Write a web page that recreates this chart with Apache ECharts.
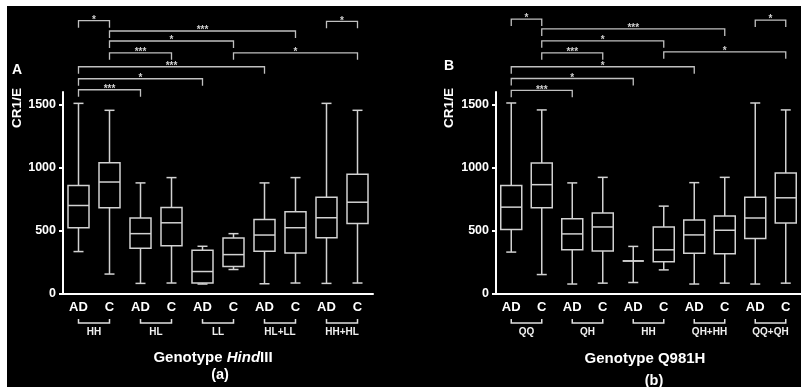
<!DOCTYPE html>
<html>
<head>
<meta charset="utf-8">
<script src="https://cdn.jsdelivr.net/npm/echarts@6/dist/echarts.min.js"></script>
<style>
  html, body { margin: 0; padding: 0; background: #000; }
  #chart { width: 801px; height: 387px; }
</style>
</head>
<body>
<div id="chart"></div>
<script>
// Category labels along each x axis (patients AD / controls C per genotype)
const xLabels = ['AD', 'C', 'AD', 'C', 'AD', 'C', 'AD', 'C', 'AD', 'C'];
const groupsA = ['HH', 'HL', 'LL', 'HL+LL', 'HH+HL'];
const groupsB = ['QQ', 'QH', 'HH', 'QH+HH', 'QQ+QH'];
const yTicks = [0, 500, 1000, 1500];

// Box statistics per category: [min, Q1, median, Q3, max]
const boxesA = [
  [336, 525, 701, 859, 1510],
  [158, 683, 887, 1040, 1455],
  [84, 362, 478, 601, 880],
  [87, 383, 564, 686, 922],
  [79, 87, 178, 347, 378],
  [194, 218, 312, 444, 478],
  [81, 339, 467, 591, 880],
  [87, 325, 525, 651, 922],
  [84, 446, 604, 767, 1510],
  [87, 559, 727, 948, 1455]
];
const boxesB = [
  [332, 511, 688, 859, 1513],
  [154, 683, 866, 1037, 1458],
  [79, 350, 476, 597, 880],
  [86, 340, 531, 641, 924],
  [91, 262, 262, 262, 377],
  [191, 256, 350, 531, 696],
  [79, 322, 468, 586, 882],
  [86, 319, 505, 617, 924],
  [79, 440, 602, 767, 1513],
  [86, 562, 762, 958, 1458]
];

// Significance comparisons: [from category, to category, bracket level]
const sigA = [
  [0, 1, 2165], [1, 7, 2083], [1, 5, 2004], [1, 3, 1910], [5, 9, 1910],
  [0, 6, 1800], [0, 4, 1705], [0, 2, 1618], [8, 9, 2160]
];
const sigLabelsA = ['*', '***', '*', '***', '*', '***', '*', '***', '*'];
const sigB = [
  [0, 1, 2178], [1, 7, 2100], [1, 5, 2005], [1, 3, 1910], [5, 9, 1918],
  [0, 6, 1800], [0, 4, 1707], [0, 2, 1613], [8, 9, 2170]
];
const sigLabelsB = ['*', '***', '*', '***', '*', '*', '*', '***', '*'];

const FONT = "'Liberation Sans', Arial, sans-serif";
const LINE = '#d2d2d2';

function boxData(boxes) {
  return boxes.map((b, i) => [i].concat(b));
}

function renderBox(params, api) {
  const x = api.value(0);
  const pMin = api.coord([x, api.value(1)]);
  const pQ1 = api.coord([x, api.value(2)]);
  const pMed = api.coord([x, api.value(3)]);
  const pQ3 = api.coord([x, api.value(4)]);
  const pMax = api.coord([x, api.value(5)]);
  const cx = pMin[0];
  const hb = 10.5, hc = 5;
  const st = { stroke: LINE, lineWidth: 1.5 };
  return {
    type: 'group',
    children: [
      { type: 'line', shape: { x1: cx, y1: pMax[1], x2: cx, y2: pQ3[1] }, style: st },
      { type: 'line', shape: { x1: cx, y1: pQ1[1], x2: cx, y2: pMin[1] }, style: st },
      { type: 'line', shape: { x1: cx - hc, y1: pMax[1], x2: cx + hc, y2: pMax[1] }, style: st },
      { type: 'line', shape: { x1: cx - hc, y1: pMin[1], x2: cx + hc, y2: pMin[1] }, style: st },
      { type: 'rect', shape: { x: cx - hb, y: pQ3[1], width: 2 * hb, height: pQ1[1] - pQ3[1] },
        style: { fill: '#000', stroke: LINE, lineWidth: 1.5 } },
      { type: 'line', shape: { x1: cx - hb, y1: pMed[1], x2: cx + hb, y2: pMed[1] }, style: st }
    ]
  };
}

function makeSigRenderer(labels) {
  return function (params, api) {
    const level = api.value(2);
    const a = api.coord([api.value(0), level]);
    const b = api.coord([api.value(1), level]);
    const drop = 7;
    return {
      type: 'group',
      children: [
        { type: 'polyline',
          shape: { points: [[a[0], a[1] + drop], [a[0], a[1]], [b[0], b[1]], [b[0], b[1] + drop]] },
          style: { stroke: '#c0c0c0', lineWidth: 1.3, fill: null } },
        { type: 'text', x: (a[0] + b[0]) / 2, y: a[1] - 0.5,
          style: { text: labels[params.dataIndex], fill: '#cfcfcf',
            font: 'bold 10px ' + FONT, textAlign: 'center', textVerticalAlign: 'middle' } }
      ]
    };
  };
}

function makeGroupRenderer(names) {
  return function (params, api) {
    const a = api.coord([api.value(0), 0]);
    const b = api.coord([api.value(1), 0]);
    const base = a[1];
    return {
      type: 'group',
      children: [
        { type: 'polyline',
          shape: { points: [[a[0], base + 25], [a[0], base + 29], [b[0], base + 29], [b[0], base + 25]] },
          style: { stroke: '#e0e0e0', lineWidth: 1.5, fill: null } },
        { type: 'text', x: (a[0] + b[0]) / 2, y: base + 38.5,
          style: { text: names[params.dataIndex], fill: '#f0f0f0',
            font: 'bold 10px ' + FONT, textAlign: 'center', textVerticalAlign: 'middle' } }
      ]
    };
  };
}

function groupData(names) {
  return names.map((n, i) => [2 * i, 2 * i + 1]);
}

function xAxisFor(gridIndex) {
  return {
    type: 'category', gridIndex, data: xLabels,
    axisLine: { lineStyle: { color: '#fff', width: 2 } },
    axisTick: { alignWithLabel: true, length: 4, lineStyle: { color: '#fff', width: 2 } },
    axisLabel: { color: '#fff', fontFamily: FONT, fontWeight: 'bold', fontSize: 13, margin: 7 }
  };
}

function yAxisFor(gridIndex) {
  return {
    type: 'value', gridIndex, min: 0, max: 1600, interval: 500,
    splitLine: { show: false },
    axisLine: { show: true, lineStyle: { color: '#fff', width: 2 } },
    axisTick: { show: true, length: 4, customValues: yTicks, lineStyle: { color: '#fff', width: 2 } },
    axisLabel: { color: '#fff', fontFamily: FONT, fontWeight: 'bold', fontSize: 12.5, margin: 7,
      customValues: yTicks, formatter: (v) => String(v) }
  };
}

const chart = echarts.init(document.getElementById('chart'), null, { renderer: 'canvas' });
chart.setOption({
  backgroundColor: '#000',
  animation: false,
  grid: [
    { left: 63, top: 92, width: 310, height: 202 },
    { left: 496, top: 92, width: 310, height: 202 }
  ],
  xAxis: [xAxisFor(0), xAxisFor(1)],
  yAxis: [yAxisFor(0), yAxisFor(1)],
  series: [
    { type: 'custom', xAxisIndex: 0, yAxisIndex: 0, data: boxData(boxesA), renderItem: renderBox,
      encode: { x: 0, y: [1, 2, 3, 4, 5] }, clip: false },
    { type: 'custom', xAxisIndex: 1, yAxisIndex: 1, data: boxData(boxesB), renderItem: renderBox,
      encode: { x: 0, y: [1, 2, 3, 4, 5] }, clip: false },
    { type: 'custom', xAxisIndex: 0, yAxisIndex: 0, data: sigA, renderItem: makeSigRenderer(sigLabelsA),
      encode: { x: [0, 1], y: 2 }, clip: false, z: 3 },
    { type: 'custom', xAxisIndex: 1, yAxisIndex: 1, data: sigB, renderItem: makeSigRenderer(sigLabelsB),
      encode: { x: [0, 1], y: 2 }, clip: false, z: 3 },
    { type: 'custom', xAxisIndex: 0, yAxisIndex: 0, data: groupData(groupsA), renderItem: makeGroupRenderer(groupsA),
      encode: { x: [0, 1] }, clip: false },
    { type: 'custom', xAxisIndex: 1, yAxisIndex: 1, data: groupData(groupsB), renderItem: makeGroupRenderer(groupsB),
      encode: { x: [0, 1] }, clip: false }
  ],
  graphic: [
    { type: 'rect', shape: { x: 0, y: 0, width: 801, height: 6 }, style: { fill: '#fff' }, silent: true },
    { type: 'rect', shape: { x: 0, y: 0, width: 7, height: 387 }, style: { fill: '#fff' }, silent: true },
    { type: 'text', x: 17, y: 70, style: { text: 'A', fill: '#fff', font: 'bold 14px ' + FONT,
      textAlign: 'center', textVerticalAlign: 'middle' } },
    { type: 'text', x: 449, y: 66, style: { text: 'B', fill: '#fff', font: 'bold 14px ' + FONT,
      textAlign: 'center', textVerticalAlign: 'middle' } },
    { type: 'text', x: 17, y: 108, rotation: Math.PI / 2, style: { text: 'CR1/E', fill: '#fff',
      font: 'bold 13.5px ' + FONT, textAlign: 'center', textVerticalAlign: 'middle' } },
    { type: 'text', x: 449, y: 108, rotation: Math.PI / 2, style: { text: 'CR1/E', fill: '#fff',
      font: 'bold 13.5px ' + FONT, textAlign: 'center', textVerticalAlign: 'middle' } },
    { type: 'text', x: 213, y: 358, style: {
      text: '{n|Genotype }{i|Hind}{n|III}', textAlign: 'center', textVerticalAlign: 'middle',
      rich: {
        n: { fill: '#fff', fontFamily: FONT, fontWeight: 'bold', fontSize: 15 },
        i: { fill: '#fff', fontFamily: FONT, fontWeight: 'bold', fontStyle: 'italic', fontSize: 15 }
      } } },
    { type: 'text', x: 220, y: 375, style: { text: '(a)', fill: '#fff', font: 'bold 14.5px ' + FONT,
      textAlign: 'center', textVerticalAlign: 'middle' } },
    { type: 'text', x: 645, y: 359, style: { text: 'Genotype Q981H', fill: '#fff', font: 'bold 15px ' + FONT,
      textAlign: 'center', textVerticalAlign: 'middle' } },
    { type: 'text', x: 654, y: 381, style: { text: '(b)', fill: '#fff', font: 'bold 14.5px ' + FONT,
      textAlign: 'center', textVerticalAlign: 'middle' } }
  ]
});
</script>
</body>
</html>
